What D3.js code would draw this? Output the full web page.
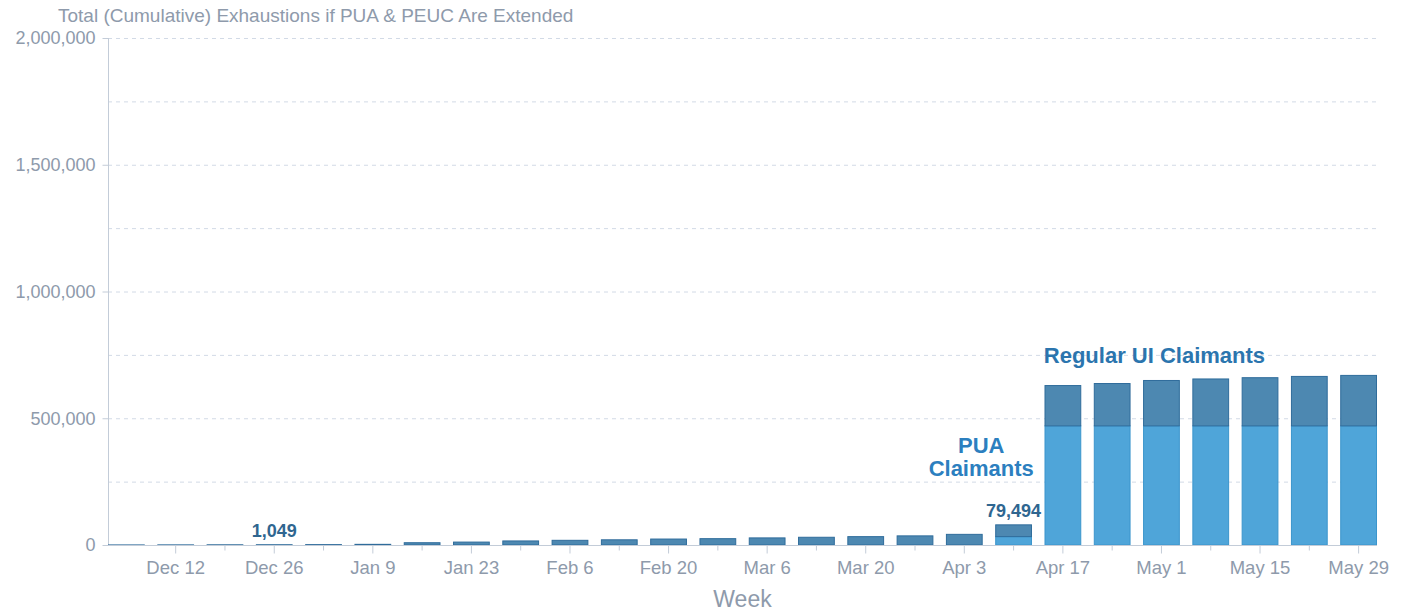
<!DOCTYPE html>
<html lang="en">
<head>
    <meta charset="utf-8">
    <title>Total (Cumulative) Exhaustions</title>
    <script src="https://d3js.org/d3.v7.min.js"></script>
    <style>
        body { margin: 0; background: white; }
        text { font-family: "Liberation Sans", Arial, sans-serif; }
    </style>
</head>
<body>
    <div id="chart"></div>
    <script>
        // weeks ending (Saturdays), Dec 2020 - May 2021
        const weeks = ["2020-12-05", "2020-12-12", "2020-12-19", "2020-12-26", "2021-01-02", "2021-01-09",
            "2021-01-16", "2021-01-23", "2021-01-30", "2021-02-06", "2021-02-13", "2021-02-20", "2021-02-27",
            "2021-03-06", "2021-03-13", "2021-03-20", "2021-03-27", "2021-04-03", "2021-04-10", "2021-04-17",
            "2021-04-24", "2021-05-01", "2021-05-08", "2021-05-15", "2021-05-22", "2021-05-29"];

        // cumulative exhaustions
        const puaClaimants = [0, 0, 0, 0, 0, 0, 0, 0, 0, 0, 0, 0, 0,
            0, 0, 0, 0, 0, 33000, 470000, 470000, 470000, 470000, 470000, 470000, 470000];
        const regularClaimants = [300, 500, 800, 1049, 1500, 2600, 9000, 11500, 16000, 18500, 20500, 23500, 25000,
            28000, 30500, 33000, 36000, 42000, 46494, 159000, 167000, 179000, 185000, 190000, 195000, 199000];

        const yTicks = [0, 500000, 1000000, 1500000, 2000000];
        const yGrid = [250000, 500000, 750000, 1000000, 1250000, 1500000, 1750000, 2000000];

        const width = 1407, height = 616;
        const plotLeft = 108, plotRight = 1377, plotTop = 38, plotBottom = 545;

        const parse = d3.timeParse("%Y-%m-%d");
        const fmtWeek = d3.timeFormat("%b %-d");
        const fmtNum = d3.format(",");

        const data = weeks.map((w, i) => ({
            week: w,
            pua: puaClaimants[i],
            regular: regularClaimants[i],
            total: puaClaimants[i] + regularClaimants[i]
        }));

        const svg = d3.select("#chart").append("svg")
            .attr("width", width)
            .attr("height", height);

        const x = d3.scaleBand()
            .domain(weeks)
            .range([plotLeft, plotRight])
            .paddingInner(0.254)
            .paddingOuter(0);

        const y = d3.scaleLinear()
            .domain([0, 2000000])
            .range([plotBottom, plotTop]);

        // dashed grid
        svg.append("g")
            .selectAll("line")
            .data(yGrid)
            .join("line")
            .attr("x1", plotLeft)
            .attr("x2", plotRight)
            .attr("y1", d => y(d) + 0.5)
            .attr("y2", d => y(d) + 0.5)
            .attr("stroke", "#d2dae6")
            .attr("stroke-dasharray", "4,4");

        // y axis
        const yAxis = svg.append("g")
            .attr("transform", "translate(" + (plotLeft + 0.5) + ",0)")
            .call(d3.axisLeft(y).tickValues(yTicks).tickFormat(fmtNum).tickSize(6).tickPadding(7));
        yAxis.select(".domain").attr("stroke", "#c3ccd8").attr("d", "M0," + plotTop + "V" + plotBottom);
        yAxis.selectAll(".tick line").attr("stroke", "#c3ccd8");
        yAxis.selectAll(".tick text")
            .attr("fill", "#8e9aab")
            .style("font-size", "18px")
            .style("font-family", "Liberation Sans, Arial, sans-serif");

        // bars: regular UI on top of PUA
        const bars = svg.append("g");
        bars.selectAll("rect.pua")
            .data(data.filter(d => d.pua > 0))
            .join("rect")
            .attr("class", "pua")
            .attr("x", d => x(d.week) + 0.5)
            .attr("width", x.bandwidth() - 1)
            .attr("y", d => y(d.pua))
            .attr("height", d => y(0) - y(d.pua))
            .attr("fill", "#4fa5d9")
            .attr("stroke", "#3b95cc")
            .attr("stroke-width", 1);

        bars.selectAll("rect.regular")
            .data(data)
            .join("rect")
            .attr("class", "regular")
            .attr("x", d => x(d.week) + 0.5)
            .attr("width", x.bandwidth() - 1)
            .attr("y", d => y(d.total))
            .attr("height", d => y(d.pua) - y(d.total))
            .attr("fill", "#4d88b1")
            .attr("stroke", "#2f6c9b")
            .attr("stroke-width", 1);

        // x axis
        const xAxis = svg.append("g")
            .attr("transform", "translate(0," + (plotBottom + 0.5) + ")");
        xAxis.append("line")
            .attr("x1", plotLeft)
            .attr("x2", plotRight)
            .attr("stroke", "#c3ccd8");
        const ticks = xAxis.selectAll("g")
            .data(weeks.slice(1))
            .join("g")
            .attr("transform", d => "translate(" + (x(d) + x.bandwidth() / 2) + ",0)");
        ticks.append("line")
            .attr("y2", (d, i) => i % 2 === 0 ? 8 : 5)
            .attr("stroke", "#c3ccd8");
        ticks.filter((d, i) => i % 2 === 0)
            .append("text")
            .attr("y", 28)
            .attr("text-anchor", "middle")
            .attr("fill", "#8e9aab")
            .style("font-size", "18.5px")
            .text(d => fmtWeek(parse(d)));

        svg.append("text")
            .attr("x", (plotLeft + plotRight) / 2)
            .attr("y", 607)
            .attr("text-anchor", "middle")
            .attr("fill", "#8e9aab")
            .style("font-size", "23px")
            .text("Week");

        // title
        svg.append("text")
            .attr("x", 58)
            .attr("y", 22)
            .attr("fill", "#8e9aab")
            .style("font-size", "19px")
            .text("Total (Cumulative) Exhaustions if PUA & PEUC Are Extended");

        // value labels
        const labelled = data.filter(d => d.week === "2020-12-26" || d.week === "2021-04-10");
        svg.selectAll("text.value")
            .data(labelled)
            .join("text")
            .attr("class", "value")
            .attr("x", d => x(d.week) + x.bandwidth() / 2)
            .attr("y", d => y(d.total) - 8)
            .attr("text-anchor", "middle")
            .attr("fill", "#2f6690")
            .style("font-size", "18px")
            .style("font-weight", "bold")
            .text(d => fmtNum(d.total));

        // annotations
        svg.append("text")
            .attr("x", x("2021-05-01") + x.bandwidth() / 2 - 7)
            .attr("y", 363)
            .attr("text-anchor", "middle")
            .attr("fill", "#2b75ae")
            .style("font-size", "22px")
            .style("font-weight", "bold")
            .text("Regular UI Claimants");

        const pua = svg.append("text")
            .attr("x", x("2021-04-10") - 14)
            .attr("y", 453)
            .attr("text-anchor", "middle")
            .attr("fill", "#2c7fbf")
            .style("font-size", "22px")
            .style("font-weight", "bold");
        pua.append("tspan").text("PUA");
        pua.append("tspan").attr("x", x("2021-04-10") - 14).attr("dy", 23).text("Claimants");
    </script>
</body>
</html>
